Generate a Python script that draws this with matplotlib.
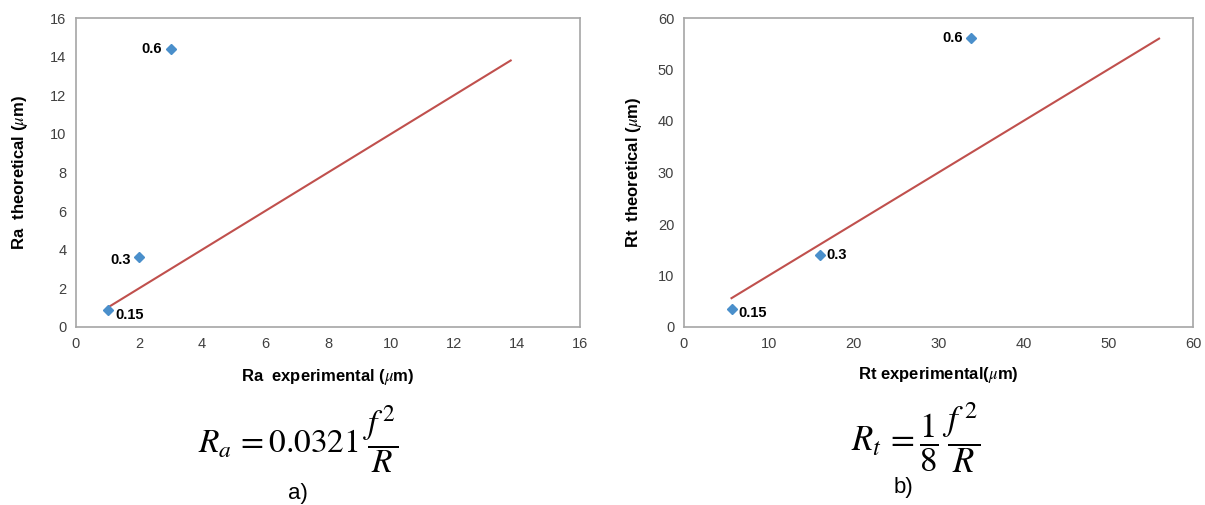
import numpy as np
import matplotlib.pyplot as plt

# left chart: Ra
ra_exp = [1.0, 2.0, 3.0]
ra_theo = [0.9, 3.6, 14.4]
ra_labels = ['0.15', '0.3', '0.6']
ra_line = [1.0, 13.8]

# right chart: Rt
rt_exp = [5.6, 16.0, 33.8]
rt_theo = [3.5, 14.0, 56.2]
rt_labels = ['0.15', '0.3', '0.6']
rt_line = [5.6, 56.0]

plt.rcParams['font.family'] = ['Liberation Sans', 'DejaVu Sans']
plt.rcParams['mathtext.fontset'] = 'stix'

fig = plt.figure(figsize=(12.05, 5.05), dpi=100)
ax1 = fig.add_axes([76 / 1205, 1 - 327 / 505, 504 / 1205, 309 / 505])
ax2 = fig.add_axes([684 / 1205, 1 - 327 / 505, 509 / 1205, 309 / 505])

marker_col = '#4a8fcb'
line_col = '#c0504d'


def style(ax, lim, step):
    ax.set_xlim(0, lim)
    ax.set_ylim(0, lim)
    ax.set_xticks(np.arange(0, lim + 1, step))
    ax.set_yticks(np.arange(0, lim + 1, step))
    for s in ax.spines.values():
        s.set_color('#a6a6a6')
        s.set_linewidth(1.2)
    ax.tick_params(length=0, labelsize=10.5, colors='#404040', pad=7)


# Ra
ax1.plot(ra_line, ra_line, color=line_col, lw=1.5)
ax1.plot(ra_exp, ra_theo, 'D', color=marker_col, ms=5, mec=marker_col)
offs1 = [(6, -4, 'left'), (-6, -2, 'right'), (-6, 0, 'right')]
for x, y, lab, (dx, dy, ha) in zip(ra_exp, ra_theo, ra_labels, offs1):
    ax1.annotate(lab, (x, y), xytext=(dx, dy), textcoords='offset points',
                 ha=ha, va='center', fontsize=10.5, fontweight='bold')
style(ax1, 16, 2)
ax1.set_xlabel(r'Ra  experimental ($\mu$m)', fontsize=12, fontweight='bold', labelpad=12)
ax1.set_ylabel(r'Ra  theoretical ($\mu$m)', fontsize=12, fontweight='bold', labelpad=14)

# Rt
ax2.plot(rt_line, rt_line, color=line_col, lw=1.5)
ax2.plot(rt_exp, rt_theo, 'D', color=marker_col, ms=5, mec=marker_col)
offs2 = [(5, -3, 'left'), (5, 0, 'left'), (-6, 0, 'right')]
for x, y, lab, (dx, dy, ha) in zip(rt_exp, rt_theo, rt_labels, offs2):
    ax2.annotate(lab, (x, y), xytext=(dx, dy), textcoords='offset points',
                 ha=ha, va='center', fontsize=10.5, fontweight='bold')
style(ax2, 60, 10)
ax2.set_xlabel(r'Rt experimental($\mu$m)', fontsize=12, fontweight='bold', labelpad=10)
ax2.set_ylabel(r'Rt  theoretical ($\mu$m)', fontsize=12, fontweight='bold', labelpad=10)

# formulas and captions
fig.text(298 / 1205, 1 - 440 / 505, r'$R_a\, =0.0321\;\dfrac{f^{\,2}}{R}$',
         ha='center', va='center', fontsize=24)
fig.text(298 / 1205, 1 - 494 / 505, 'a)', ha='center', va='center', fontsize=16)
fig.text(916 / 1205, 1 - 438 / 505, r'$R_t\, =\dfrac{1}{8}\;\dfrac{f^{\,2}}{R}$',
         ha='center', va='center', fontsize=25)
fig.text(903 / 1205, 1 - 487 / 505, 'b)', ha='center', va='center', fontsize=16)

fig.savefig('out.png', dpi=100, facecolor='white')
